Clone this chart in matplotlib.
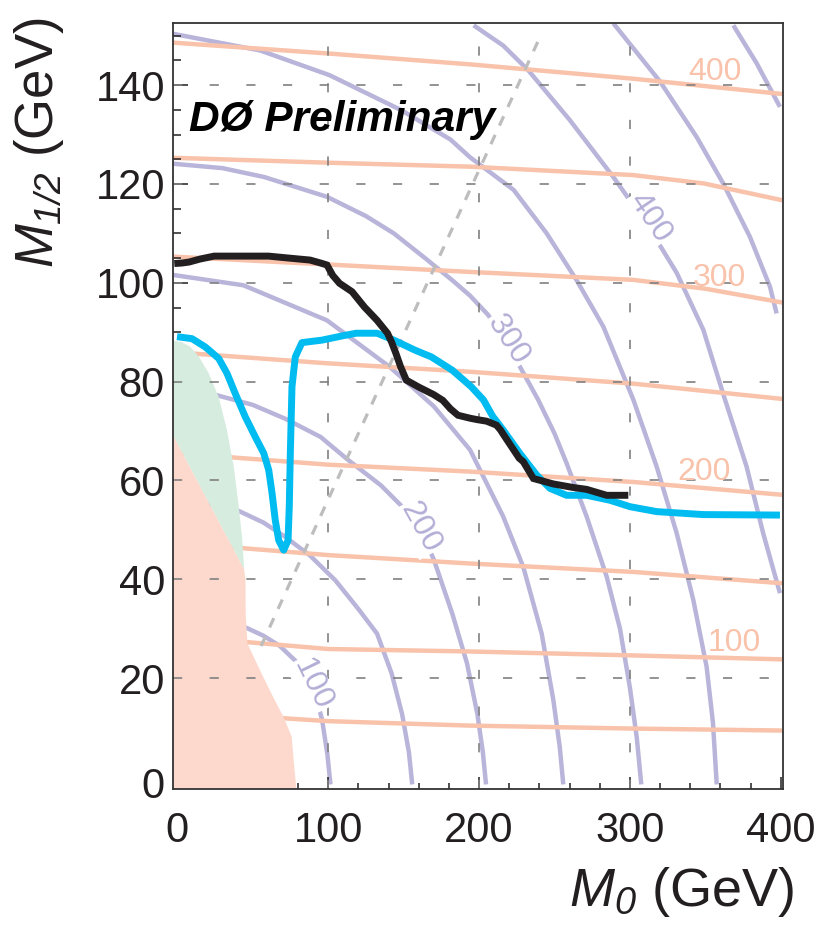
import matplotlib

matplotlib.use("Agg")
import matplotlib.pyplot as plt
from matplotlib import transforms
from matplotlib.ticker import MultipleLocator

plt.rcParams["font.family"] = ["Liberation Sans", "DejaVu Sans"]
plt.rcParams["mathtext.fontset"] = "custom"
plt.rcParams["mathtext.it"] = "Liberation Sans:italic"
plt.rcParams["mathtext.rm"] = "Liberation Sans:italic"

# --- purple arcs (equal-mass contours) ---
arc100_x = [0, 30, 45, 57, 68, 79, 85, 91, 96, 99.5, 101.5]
arc100_y = [33, 31.6, 30.3, 28.6, 26.5, 23.3, 21, 17.3, 11.5, 4.5, -1.5]
arc150_x = [0, 20, 41, 57, 71.5, 88, 104.7, 120, 132.4, 142, 149, 153.5, 155.7]
arc150_y = [56, 55.2, 53.8, 51.5, 48.6, 44.8, 39.8, 34, 29, 21, 12.7, 5, -1.5]
arc200_x = [0, 24.4, 50, 71.5, 95, 113, 135, 154.6, 162, 170, 182.3, 192, 198.9, 202.5, 204.6]
arc200_y = [79, 77.4, 75.3, 72.5, 68.8, 64.2, 59, 53, 49.5, 44, 33, 23, 12.7, 5, -1.5]
arc250_x = [-3, 43.8, 99.2, 140.7, 170, 194, 216, 229.3, 241.5, 249.2, 253.5, 255.8]
arc250_y = [101.6, 99.5, 92.4, 83, 75, 66.2, 52.7, 42.5, 29, 15.6, 6, -1.5]
arc300_x = [-3, 30, 57.6, 99.2, 125, 143.5, 165, 182.3, 194, 206, 218, 228, 239.2, 250, 258, 271.3,
            284.6, 293.4, 300, 304.5, 307.5]
arc300_y = [124.1, 123.2, 121.4, 117.4, 113.5, 110, 104.8, 100.5, 97.4, 93.5, 88, 82.5, 76.3, 69.5,
            63.5, 52.7, 40.5, 30, 18, 8, -1.5]
arc350_x = [-3, 55, 101, 148, 181, 194, 222.9, 244.8, 264.7, 282.4, 302.3, 317.7, 331, 342, 350.8, 355, 357.5]
arc350_y = [150.4, 147, 142, 135, 129, 125.4, 118.8, 110, 100.5, 91.1, 76.3, 62.8, 49.3, 35.8, 22.3, 11, -1.5]
arc400_x = [196.4, 216, 232.6, 260.2, 289, 312, 331, 348.6, 361.8, 377.3, 388.3, 399.4]
arc400_y = [152.1, 148, 143, 132.9, 121.4, 111.5, 102, 90.5, 77.5, 62.8, 49.3, 37.2]
arc450_x = [289, 320, 344.2, 361.8, 379.5, 392.8, 397.2]
arc450_y = [152.5, 140.7, 129.5, 120.1, 109.3, 99.2, 93.8]
arc500_x = [368.5, 384, 399.4]
arc500_y = [152.1, 144.4, 135.6]

# --- orange, nearly flat contours ---
band50_x = [0, 70, 100, 194, 302, 401]
band50_y = [12.5, 11.9, 11.3, 10.4, 9.8, 9.4]
band100_x = [0, 46, 100, 194, 302, 401]
band100_y = [28, 27.3, 25.9, 25.4, 24.6, 23.8]
band150_x = [0, 43.5, 100, 194, 302, 401]
band150_y = [47.2, 46.3, 44.9, 43.2, 41.5, 39.2]
band200_x = [0, 35, 100, 194, 302, 401]
band200_y = [65.5, 64.7, 63.2, 61.8, 59.7, 57.1]
band250_x = [0, 5, 100, 194, 302, 401]
band250_y = [86, 85.8, 83.7, 82, 79.6, 76.5]
band300_x = [-3, 100, 194, 302, 350, 401]
band300_y = [105.3, 103.7, 102.2, 100.6, 98.8, 96]
band350_x = [-3, 100, 194, 302, 349, 401]
band350_y = [125.3, 124.3, 123.5, 121.8, 120.1, 116.7]
band400_x = [-3, 100, 194, 302, 401]
band400_y = [148.6, 146.4, 144.2, 141.3, 138.2]

# --- shaded regions ---
green_x = [-3, 3, 8.4, 14.2, 20.8, 27.4, 32.9, 37.4, 40.7, 42.9, 44.3, -3]
green_y = [88.3, 88.0, 87.1, 85.1, 81.7, 76.9, 70.2, 62.8, 54.7, 48.6, 42.0, 69.2]
red_x = [-3, 44.3, 45.2, 45.3, 46.5, 54.8, 62.5, 70.3, 75.8, 76.9, 79.1, -3]
red_y = [69.2, 42.0, 39.8, 33, 27, 21.6, 16.8, 12.2, 8.2, 4.1, -3, -3]

# --- gray dashed diagonal ---
diag_x = [55.5, 240]
diag_y = [26.5, 149.5]

# --- limit curves ---
blue_x = [-0.2, 9.7, 18.6, 27.4, 32.9, 38.4, 45, 51.7, 57.3, 60.6, 62.8, 64.9, 67.2, 70.5, 73.4, 74.2,
          74.9, 76, 78.2, 82.6, 95.9, 110, 118.6, 132.4, 143.5, 157.3, 168.4, 182.3, 194.7, 202.9,
          209, 216, 227, 238.2, 247, 258, 271.3, 286.7, 300, 317.7, 348.6, 399.4]
blue_y = [89.1, 88.7, 87, 84.7, 81.7, 77.6, 72.9, 68.8, 65.5, 62.1, 57.4, 52, 47.9, 45.9, 47.9, 54.7,
          65.5, 79, 85, 87.9, 88.4, 89.3, 89.8, 89.8, 88.4, 86.4, 85, 82.3, 79, 76.3,
          73, 70.2, 65.5, 61.1, 58.4, 57, 57, 56, 54.7, 53.7, 53.1, 53]
black_x = [-2, 3, 7.8, 15, 24.4, 40, 60.4, 74, 88, 95, 99.2, 103, 107.5, 115.8, 124, 132.4, 139.3, 142,
           144.9, 148, 151.8, 160, 169.8, 176, 181, 186, 194, 199, 205, 211.5, 214, 218.3, 226.6,
           229.3, 236, 249.2, 262, 271.3, 284.6, 298.9]
black_y = [103.9, 104, 104.2, 104.8, 105.4, 105.4, 105.4, 105, 104.6, 104, 103.6, 101.5, 99.9, 98.2,
           95.1, 92.4, 89.8, 88, 85.7, 83, 80.3, 78.9, 77.4, 76.2, 74.5, 73.2, 72.6, 72.3, 72, 71.2,
           70.3, 68.3, 64.5, 63.8, 60.4, 59.3, 58.6, 58.2, 57, 57]

x_ticks = [0, 100, 200, 300, 400]
x_tick_labels = ["0", "100", "200", "300", "400"]
y_ticks = [0, 20, 40, 60, 80, 100, 120, 140]
y_tick_labels = ["", "20", "40", "60", "80", "100", "120", "140"]
grid_x = [100, 200, 300]
grid_y = [20, 40, 60, 80, 100, 120, 140]

# contour labels
band_label_text = ["400", "300", "200", "100"]
band_label_x = [356.5, 359, 349, 369]
band_label_y = [142.7, 101, 61.8, 27.2]
arc_label_text = ["100", "200", "300", "400"]
arc_label_x = [89.5, 161, 219, 313]
arc_label_y = [18.8, 50.5, 88.5, 113.2]
arc_label_rot = [-64, -61, -57, -56]

PURPLE = "#b9b4d9"
ORANGE = "#f9c2aa"
GREEN = "#d6ecde"
RED = "#fcd9cc"
CYAN = "#00bcf0"
INK = "#231f20"

fig = plt.figure(figsize=(8.21, 9.30), dpi=100)
ax = fig.add_axes([0.2111, 0.1516, 0.7422, 0.8233])
ax.set_xlim(-2.65, 401.2)
ax.set_ylim(-2.43, 152.5)

arcs = [(arc100_x, arc100_y), (arc150_x, arc150_y), (arc200_x, arc200_y), (arc250_x, arc250_y),
        (arc300_x, arc300_y), (arc350_x, arc350_y), (arc400_x, arc400_y), (arc450_x, arc450_y),
        (arc500_x, arc500_y)]
for xs, ys in arcs:
    ax.plot(xs, ys, color=PURPLE, lw=3.2, solid_capstyle="butt", zorder=1)

bands = [(band50_x, band50_y), (band100_x, band100_y), (band150_x, band150_y), (band200_x, band200_y),
         (band250_x, band250_y), (band300_x, band300_y), (band350_x, band350_y), (band400_x, band400_y)]
for xs, ys in bands:
    ax.plot(xs, ys, color=ORANGE, lw=3.2, solid_capstyle="butt", zorder=1.1)

ax.fill(green_x, green_y, color=GREEN, lw=0, zorder=2)
ax.fill(red_x, red_y, color=RED, lw=0, zorder=2)

for gx in grid_x:
    ax.axvline(gx, color="#808080", lw=1.2, ls=(0, (5.5, 16.5)), zorder=2.2)
for gy in grid_y:
    ax.axhline(gy, color="#808080", lw=1.2, ls=(0, (5.5, 16.5)), zorder=2.2)

ax.plot(diag_x, diag_y, color="#bdbdbd", lw=2.3, ls=(0, (3.2, 3.2)), zorder=2.3)

for text, x, y in zip(band_label_text, band_label_x, band_label_y):
    ax.text(x, y, text, color=ORANGE, fontsize=23, ha="center", va="center", zorder=2.4)
for text, x, y, rot in zip(arc_label_text, arc_label_x, arc_label_y, arc_label_rot):
    ax.text(x, y, text, color="#b3aed6", fontsize=23, ha="center", va="center", rotation=rot,
            rotation_mode="anchor", zorder=2.4,
            bbox=dict(boxstyle="square,pad=0.05", fc="white", ec="none"))

ax.plot(blue_x, blue_y, color=CYAN, lw=5.0, solid_joinstyle="round", solid_capstyle="butt", zorder=4)
ax.plot(black_x, black_y, color=INK, lw=5.0, solid_joinstyle="miter", solid_capstyle="butt", zorder=5)

ax.text(0.025, 0.86, "DØ Preliminary", transform=ax.transAxes, fontsize=30.5, fontweight="bold",
        style="italic", color="black", ha="left", va="baseline", zorder=6)

# axes, ticks
for side in ("top", "right", "bottom", "left"):
    ax.spines[side].set_color("#333333")
    ax.spines[side].set_linewidth(1.3)
    ax.spines[side].set_zorder(6)
ax.set_xticks(x_ticks, labels=x_tick_labels)
ax.set_yticks(y_ticks, labels=y_tick_labels)
ax.xaxis.set_minor_locator(MultipleLocator(20))
ax.yaxis.set_minor_locator(MultipleLocator(5))
ax.tick_params(axis="both", which="both", direction="in", top=False, right=False,
               colors=INK, width=1.1, labelsize=30, labelcolor=INK)
ax.tick_params(axis="y", which="major", length=10.8, pad=6)
ax.tick_params(axis="y", which="minor", length=5.5)
ax.tick_params(axis="x", which="major", length=9, pad=16)
ax.tick_params(axis="x", which="minor", length=4.5)

# the "0" on the y axis sits a little below its tick
zero_tf = transforms.offset_copy(ax.get_yaxis_transform(), fig=fig, x=-6, y=-7, units="points")
ax.text(0, 0, "0", transform=zero_tf, fontsize=30, color=INK, ha="right", va="center")

fig.text(795 / 821, 1 - 906 / 930, r"$M_0$ (GeV)", fontsize=39, color=INK,
         ha="right", va="baseline")
fig.text(39 / 821, 1 - 17 / 930, r"$M_{1/2}$ (GeV)", fontsize=38, color=INK,
         rotation=90, ha="center", va="top")

fig.savefig("out.png", dpi=100)
